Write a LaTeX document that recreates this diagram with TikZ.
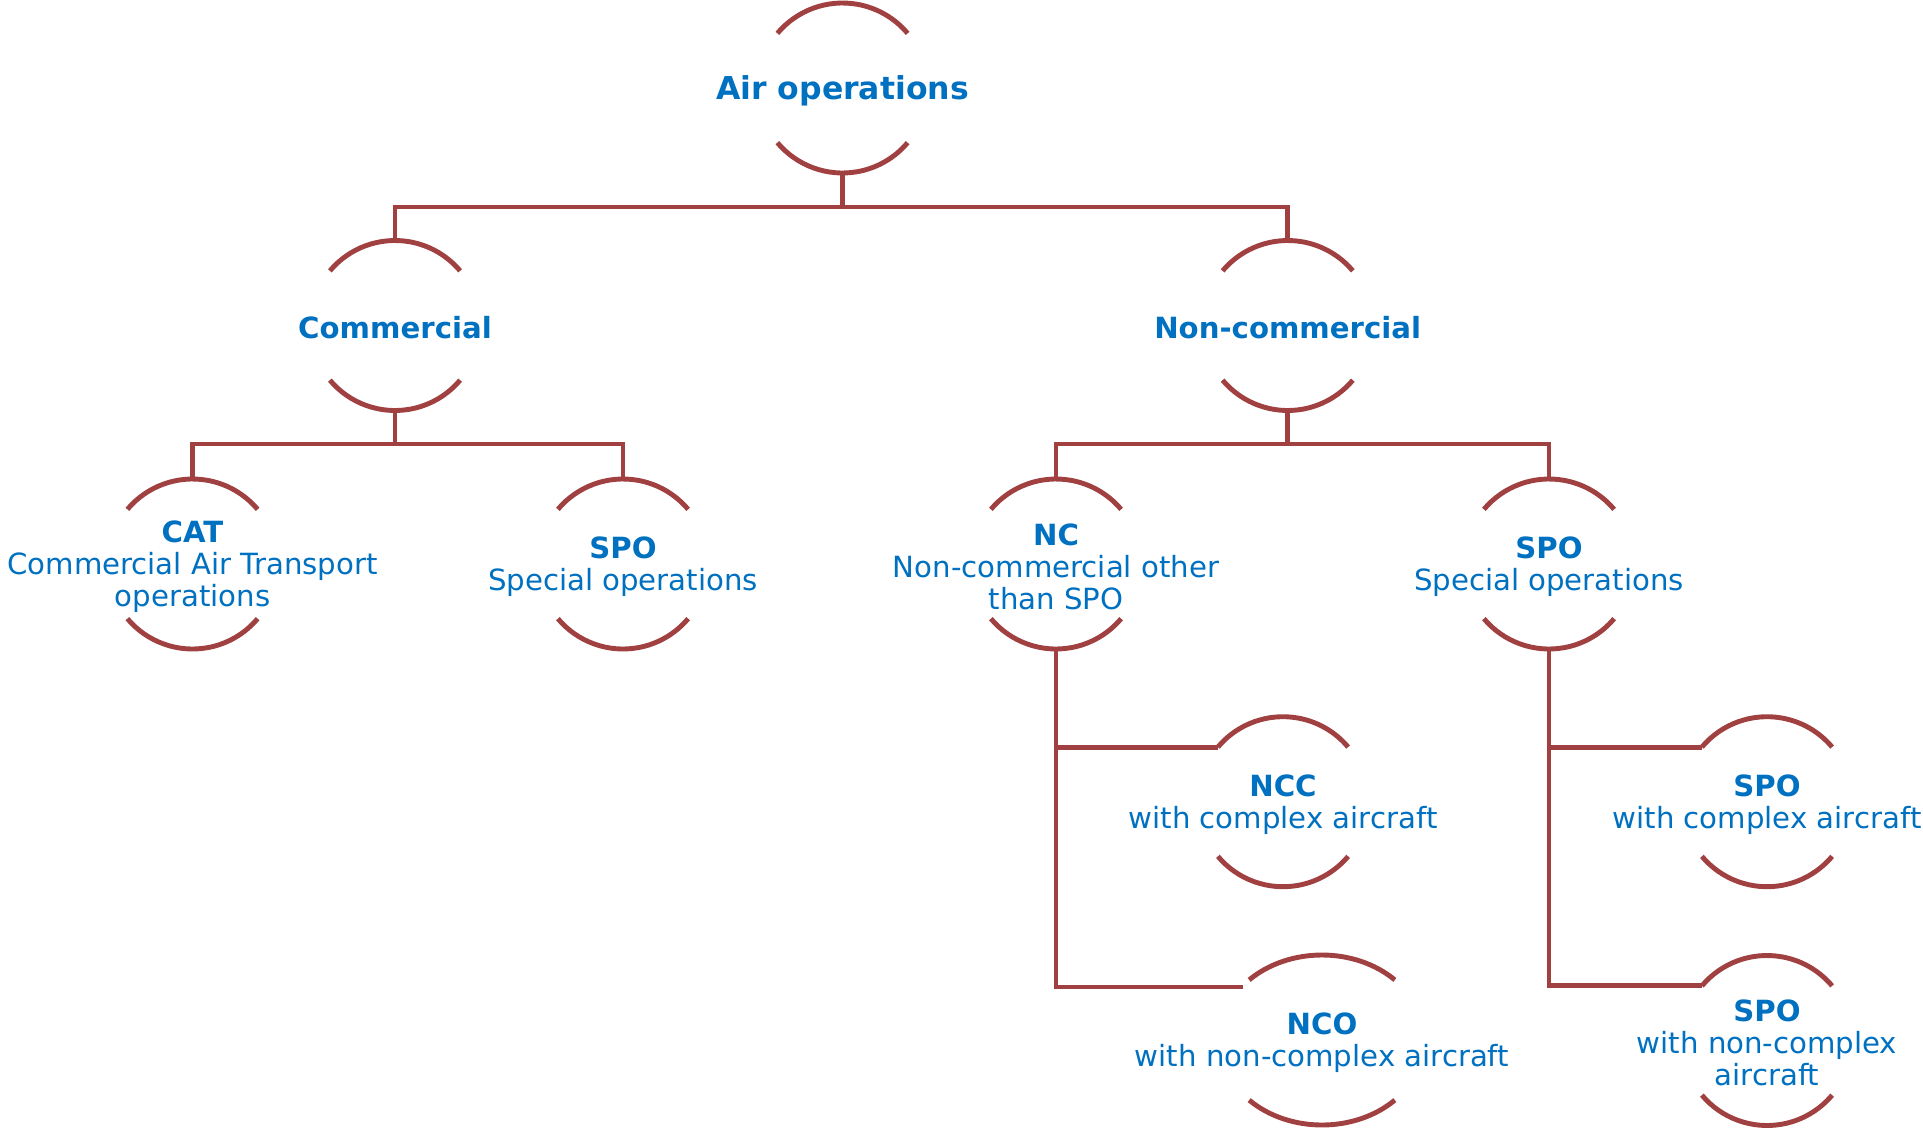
\documentclass[tikz,border=0pt]{standalone}
\usepackage{fontspec}
\setmainfont{DejaVu Sans}
\usetikzlibrary{calc}
\definecolor{txtblue}{RGB}{0,112,192}
\definecolor{linered}{RGB}{160,64,64}
\begin{document}
\begin{tikzpicture}[x=0.5pt,y=-0.5pt,
  ring/.style={circle,minimum size=85pt,inner sep=0pt,outer sep=0pt},
  lbl/.style={align=center,text=txtblue,inner sep=0pt,yshift=-1.3pt,font=\fontsize{14.6pt}{16pt}\selectfont},
  toplbl/.style={lbl,font=\fontsize{15.75pt}{18pt}\selectfont},
  arcline/.style={draw=linered,line width=2.45pt},
  conn/.style={draw=linered,line width=2.45pt}]
\useasboundingbox (0,0) rectangle (1923,1130);

% rings (invisible placeholders)
\node[ring] (air) at (842.5,88) {};
\node[ring] (com) at (395,325.5) {};
\node[ring] (noncom) at (1287.7,325.5) {};
\node[ring] (cat) at (192.5,564) {};
\node[ring] (spoa) at (623,564) {};
\node[ring] (nc) at (1056,564) {};
\node[ring] (spob) at (1549,564) {};
\node[ring] (ncc) at (1283,801.7) {};
\node[ring] (spoc) at (1767,801.7) {};
\node[ring] (spod) at (1767,1040.5) {};
\coordinate (nco) at (1322,1040);

% labels
\node[toplbl] (airT) at (air) {\textbf{Air operations}};
\node[lbl] (comT) at (com) {\textbf{Commercial}};
\node[lbl] (noncomT) at (noncom) {\textbf{Non-commercial}};
\node[lbl] (catT) at (cat) {\textbf{CAT}\\Commercial Air Transport\\operations};
\node[lbl] (spoaT) at (spoa) {\textbf{SPO}\\Special operations};
\node[lbl] (ncT) at (nc) {\textbf{NC}\\Non-commercial other\\than SPO};
\node[lbl] (spobT) at (spob) {\textbf{SPO}\\Special operations};
\node[lbl] (nccT) at (ncc) {\textbf{NCC}\\with complex aircraft};
\node[lbl] (ncoT) at (nco) {\textbf{NCO}\\with non-complex aircraft};
\node[lbl] (spocT) at (spoc) {\textbf{SPO}\\with complex aircraft};
\node[lbl] (spodT) at (spod) {\textbf{SPO}\\with non-complex\\aircraft};

% arcs
\foreach \n in {air,com,noncom,cat,spoa,nc,spob,ncc,spoc,spod}{
  \draw[arcline] (\n.140) arc[start angle=140,end angle=40,radius=42.5pt];
  \draw[arcline] (\n.220) arc[start angle=220,end angle=320,radius=42.5pt];
}
\draw[arcline] (nco) ++(135:51.5pt and 42.5pt) arc[start angle=135,end angle=45,x radius=51.5pt,y radius=42.5pt];
\draw[arcline] (nco) ++(225:51.5pt and 42.5pt) arc[start angle=225,end angle=315,x radius=51.5pt,y radius=42.5pt];

% connectors
\coordinate (j1) at (842.5,207);
\coordinate (j2) at (842.5,444);
\coordinate (ncoin) at ($(nco)+(-79,-53)$);
\draw[conn] (air.south) -- (j1);
\draw[conn] (com.north) -- (com.north |- j1) -- (noncom.north |- j1) -- (noncom.north);
\draw[conn] (com.south) -- (com.south |- j2);
\draw[conn] (cat.north) -- (cat.north |- j2) -- (spoa.north |- j2) -- (spoa.north);
\draw[conn] (noncom.south) -- (noncom.south |- j2);
\draw[conn] (nc.north) -- (nc.north |- j2) -- (spob.north |- j2) -- (spob.north);
\draw[conn] (nc.south) -- (nc.south |- ncoin) -- (ncoin);
\draw[conn] (nc.south |- ncc.140) -- (ncc.140);
\draw[conn] (spob.south) -- (spob.south |- spod.140) -- (spod.140);
\draw[conn] (spob.south |- spoc.140) -- (spoc.140);
\end{tikzpicture}
\end{document}
